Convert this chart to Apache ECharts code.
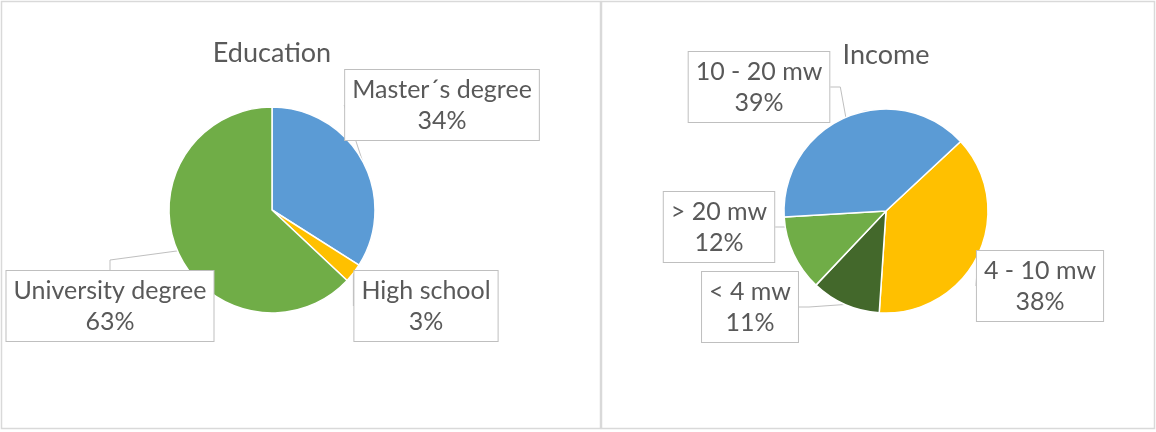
<!DOCTYPE html>
<html>
<head>
<meta charset="utf-8">
<script src="https://cdn.jsdelivr.net/npm/echarts@6/dist/echarts.min.js"></script>
<style>
html,body{margin:0;padding:0;background:#fff;}
#chart{width:1156px;height:432px;}
</style>
</head>
<body>
<div id="chart"></div>
<script>
// ---- Data ----
const eduTitle = 'Education';
const eduCategories = ['Master\u00b4s degree', 'High school', 'University degree'];
const eduValues = [34, 3, 63];

const incTitle = 'Income';
const incCategories = ['4 - 10 mw', '< 4 mw', '> 20 mw', '10 - 20 mw'];
const incValues = [38, 11, 12, 39];

// ---- Styling ----
const eduColors = ['#5B9BD5', '#FFC000', '#70AD47'];
const incColors = ['#FFC000', '#43682B', '#70AD47', '#5B9BD5'];
const FONT = 'Lato';
const TXT = '#595959';

// label box centres (layout only)
const eduLabelPos = [[442, 105], [426, 306], [110, 306]];
const incLabelPos = [[1040, 286], [750, 307], [719, 227], [759, 87]];

function buildData(cats, vals, colors) {
  return cats.map((c, i) => ({ name: c, value: vals[i], itemStyle: { color: colors[i] } }));
}

const labelStyle = {
  show: true,
  position: 'outside',
  formatter: '{b}\n{d}%',
  color: TXT,
  fontFamily: FONT,
  fontSize: 25,
  lineHeight: 31,
  align: 'center',
  overflow: 'none',
  backgroundColor: '#fff',
  borderColor: '#BFBFBF',
  borderWidth: 1,
  padding: [4, 7, 4, 7]
};

const chart = echarts.init(document.getElementById('chart'), null, { renderer: 'canvas' });
chart.setOption({
  animation: false,
  backgroundColor: '#fff',
  graphic: [
    { type: 'rect', shape: { x: 1.5, y: 1.5, width: 599, height: 427 }, style: { fill: 'none', stroke: '#D9D9D9', lineWidth: 1.5 }, silent: true },
    { type: 'rect', shape: { x: 601.5, y: 1.5, width: 553, height: 427 }, style: { fill: 'none', stroke: '#D9D9D9', lineWidth: 1.5 }, silent: true }
  ],
  title: [
    { text: eduTitle, left: 272, top: 40, textAlign: 'center', padding: 0,
      textStyle: { color: TXT, fontFamily: FONT, fontSize: 27, fontWeight: 'normal' } },
    { text: incTitle, left: 886, top: 42, textAlign: 'center', padding: 0,
      textStyle: { color: TXT, fontFamily: FONT, fontSize: 27, fontWeight: 'normal' } }
  ],
  series: [
    {
      type: 'pie',
      left: -300,
      top: 0,
      width: 1200,
      height: 432,
      center: [572, 210],
      radius: 103,
      startAngle: 90,
      clockwise: true,
      percentPrecision: 0,
      itemStyle: { borderColor: '#fff', borderWidth: 1.5 },
      data: buildData(eduCategories, eduValues, eduColors),
      label: labelStyle,
      labelLine: { show: true, length: 10, length2: 10, lineStyle: { color: '#BFBFBF', width: 1 } },
      labelLayout: function (p) {
        const pos = eduLabelPos[p.dataIndex];
        return { x: pos[0], y: pos[1], align: 'center', verticalAlign: 'middle' };
      },
      emphasis: { disabled: true }
    },
    {
      type: 'pie',
      center: [886, 211],
      radius: 102,
      startAngle: 43,
      clockwise: true,
      percentPrecision: 0,
      itemStyle: { borderColor: '#fff', borderWidth: 1.5 },
      data: buildData(incCategories, incValues, incColors),
      label: labelStyle,
      labelLine: { show: true, length: 10, length2: 10, lineStyle: { color: '#BFBFBF', width: 1 } },
      labelLayout: function (p) {
        const pos = incLabelPos[p.dataIndex];
        return { x: pos[0], y: pos[1], align: 'center', verticalAlign: 'middle' };
      },
      emphasis: { disabled: true }
    }
  ]
});
</script>
</body>
</html>
